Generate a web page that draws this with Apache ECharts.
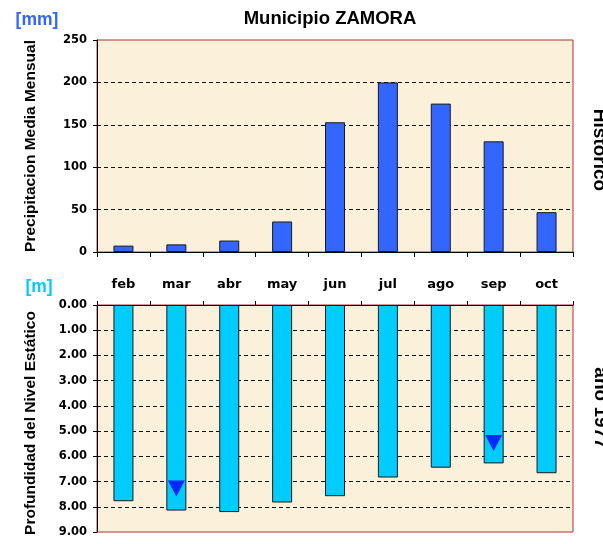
<!DOCTYPE html>
<html>
<head>
<meta charset="utf-8">
<script src="https://cdn.jsdelivr.net/npm/echarts@6/dist/echarts.min.js"></script>
<style>
  html, body { margin: 0; padding: 0; background: #ffffff; }
  #chart { width: 603px; height: 544px; }
</style>
</head>
<body>
<div id="chart"></div>
<script>
// Months shown on both panels
const meses = ['feb', 'mar', 'abr', 'may', 'jun', 'jul', 'ago', 'sep', 'oct'];

// Mean monthly precipitation (historic), mm
const precipitacion = [7.5, 9, 13.5, 36, 153, 200, 175, 130.5, 47];

// Static water level depth, year 1977, m
const profundidad = [7.78, 8.15, 8.21, 7.83, 7.58, 6.84, 6.45, 6.28, 6.67];

// Level markers (triangles) on selected months, m
const marcas = [null, 7.28, null, null, null, null, null, 5.47, null];

// Axis ranges and steps
const precipEje = [0, 250, 50];
const nivelEje = [0, 9, 1];

const FONT = 'DejaVu Sans';
const plotBg = '#FBF0D9';
const borde = '#B03030';
const grid1 = { left: 97, top: 40, width: 476, height: 212 };
const grid2 = { left: 97, top: 305, width: 476, height: 227 };

const dashed = { show: true, showMinLine: false, showMaxLine: false,
  lineStyle: { color: '#111', type: [4, 3], width: 1 } };

const chart = echarts.init(document.getElementById('chart'), null, { renderer: 'canvas' });

chart.setOption({
  animation: false,
  backgroundColor: '#ffffff',
  grid: [
    Object.assign({ show: true, backgroundColor: plotBg, borderColor: borde, borderWidth: 1, containLabel: false }, grid1),
    Object.assign({ show: true, backgroundColor: plotBg, borderColor: borde, borderWidth: 1, containLabel: false }, grid2)
  ],
  xAxis: [
    {
      type: 'category', gridIndex: 0, data: meses, position: 'bottom',
      axisLine: { lineStyle: { color: '#000', width: 1 } },
      axisTick: { show: true, inside: false, length: 5, lineStyle: { color: '#000' } },
      axisLabel: { show: false },
      splitLine: { show: false }
    },
    {
      type: 'category', gridIndex: 1, data: meses, position: 'top',
      axisLine: { lineStyle: { color: '#000', width: 1 } },
      axisTick: { show: true, inside: false, length: 4, lineStyle: { color: '#000' } },
      axisLabel: { show: true, margin: 14, fontFamily: FONT, fontWeight: 'bold', fontSize: 13, color: '#000' },
      splitLine: { show: false }
    }
  ],
  yAxis: [
    {
      type: 'value', gridIndex: 0, min: precipEje[0], max: precipEje[1], interval: precipEje[2],
      axisLine: { show: true, lineStyle: { color: '#000', width: 1 } },
      axisTick: { show: true, length: 4, lineStyle: { color: '#000' } },
      axisLabel: { margin: 10, fontFamily: FONT, fontWeight: 'bold', fontSize: 11.5, color: '#000' },
      splitLine: dashed
    },
    {
      type: 'value', gridIndex: 1, inverse: true, min: nivelEje[0], max: nivelEje[1], interval: nivelEje[2],
      axisLine: { show: true, lineStyle: { color: '#000', width: 1 } },
      axisTick: { show: true, length: 4, lineStyle: { color: '#000' } },
      axisLabel: { margin: 10, fontFamily: FONT, fontWeight: 'bold', fontSize: 11.5, color: '#000',
        formatter: v => v.toFixed(2) },
      splitLine: dashed
    }
  ],
  series: [
    {
      name: 'Precipitacion', type: 'bar', xAxisIndex: 0, yAxisIndex: 0,
      data: precipitacion, barWidth: 20,
      itemStyle: { color: '#3366FF', borderColor: '#1a1a1a', borderWidth: 1 }
    },
    {
      name: 'Profundidad', type: 'bar', xAxisIndex: 1, yAxisIndex: 1,
      data: profundidad, barWidth: 20,
      itemStyle: { color: '#00CCFF', borderColor: '#1a1a1a', borderWidth: 1 }
    },
    {
      name: 'Nivel', type: 'scatter', xAxisIndex: 1, yAxisIndex: 1,
      data: marcas, symbol: 'triangle', symbolRotate: 180, symbolSize: [17, 16],
      itemStyle: { color: '#0000FF' }, z: 5
    }
  ],
  graphic: [
    { type: 'text', x: 330, y: 19,
      style: { text: 'Municipio ZAMORA', font: 'bold 18.5px "Liberation Sans"', fill: '#000', align: 'center', verticalAlign: 'middle' } },
    { type: 'text', x: 37, y: 20,
      style: { text: '[mm]', font: 'bold 17.5px "Liberation Sans"', fill: '#3366FF', align: 'center', verticalAlign: 'middle' } },
    { type: 'text', x: 39, y: 287,
      style: { text: '[m]', font: 'bold 17.5px "Liberation Sans"', fill: '#00CCFF', align: 'center', verticalAlign: 'middle' } },
    { type: 'text', x: 31, y: 146, rotation: Math.PI / 2,
      style: { text: 'Precipitacion Media Mensual', font: 'bold 15.5px "Liberation Sans"', fill: '#000', align: 'center', verticalAlign: 'middle' } },
    { type: 'text', x: 31, y: 423, rotation: Math.PI / 2,
      style: { text: 'Profundidad del Nivel Estático', font: 'bold 15.5px "Liberation Sans"', fill: '#000', align: 'center', verticalAlign: 'middle' } },
    { type: 'text', x: 590, y: 150, rotation: -Math.PI / 2,
      style: { text: 'Histórico', font: 'bold 19px "Liberation Sans"', fill: '#000', align: 'center', verticalAlign: 'bottom' } },
    { type: 'text', x: 591, y: 408, rotation: -Math.PI / 2,
      style: { text: 'año 1977', font: 'bold 19px "Liberation Sans"', fill: '#000', align: 'center', verticalAlign: 'bottom' } }
  ]
});
</script>
</body>
</html>
